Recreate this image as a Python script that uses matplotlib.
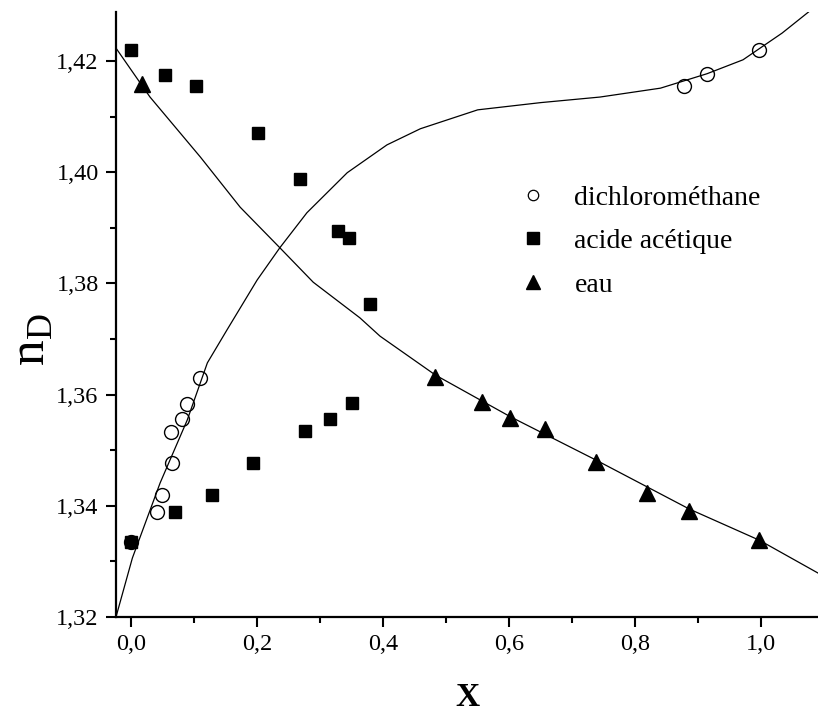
import matplotlib
matplotlib.use("Agg")
import matplotlib.pyplot as plt
from matplotlib.lines import Line2D
from matplotlib.ticker import FixedLocator, MultipleLocator

plt.rcParams['font.family'] = ['Liberation Serif', 'DejaVu Serif']
plt.rcParams['mathtext.fontset'] = 'custom'
plt.rcParams['mathtext.rm'] = 'Liberation Serif'

# --- data ---
dcm_x = [0.000, 0.041, 0.049, 0.065, 0.063, 0.081, 0.089, 0.109, 0.878, 0.914, 0.997]
dcm_y = [1.3335, 1.3389, 1.3419, 1.3477, 1.3533, 1.3556, 1.3583, 1.3630, 1.4155, 1.4177, 1.4220]

acide_x = [0.000, 0.054, 0.103, 0.202, 0.268, 0.329, 0.346, 0.379,
           0.000, 0.070, 0.129, 0.194, 0.276, 0.316, 0.351]
acide_y = [1.4220, 1.4175, 1.4155, 1.4070, 1.3988, 1.3894, 1.3882, 1.3763,
           1.3335, 1.3389, 1.3419, 1.3477, 1.3535, 1.3556, 1.3585]

eau_x = [0.017, 0.483, 0.557, 0.602, 0.657, 0.738, 0.819, 0.886, 0.997]
eau_y = [1.4158, 1.3632, 1.3587, 1.3558, 1.3538, 1.3479, 1.3423, 1.3391, 1.3338]

fit_down_x = [-0.024, 0.030, 0.110, 0.173, 0.236, 0.289, 0.363, 0.395, 0.483,
              0.602, 0.738, 0.886, 0.997, 1.090]
fit_down_y = [1.4223, 1.4135, 1.4027, 1.3937, 1.3864, 1.3802, 1.3738, 1.3705, 1.3635,
              1.3560, 1.3482, 1.3394, 1.3338, 1.3279]

fit_up_x = [-0.024, 0.002, 0.046, 0.089, 0.121, 0.152, 0.200, 0.236, 0.279, 0.343,
            0.406, 0.459, 0.550, 0.650, 0.744, 0.840, 0.914, 0.971, 1.033, 1.075]
fit_up_y = [1.3200, 1.3306, 1.3441, 1.3554, 1.3657, 1.3716, 1.3806, 1.3864, 1.3927, 1.3999,
            1.4049, 1.4078, 1.4112, 1.4125, 1.4135, 1.4151, 1.4177, 1.4202, 1.4250, 1.4288]

xticks = [0.0, 0.2, 0.4, 0.6, 0.8, 1.0]
xticklabels = ['0,0', '0,2', '0,4', '0,6', '0,8', '1,0']
yticks = [1.32, 1.34, 1.36, 1.38, 1.40, 1.42]
yticklabels = ['1,32', '1,34', '1,36', '1,38', '1,40', '1,42']
labels = ['dichlorométhane', 'acide acétique', 'eau']

fig = plt.figure(figsize=(8.18, 7.17), dpi=100)
ax = fig.add_axes([0.1418, 0.1395, 0.8582, 0.8438])

ax.plot(fit_down_x, fit_down_y, color='black', lw=0.9, zorder=2)
ax.plot(fit_up_x, fit_up_y, color='black', lw=0.9, zorder=2)
ax.plot(dcm_x, dcm_y, linestyle='none', marker='o', ms=10, mfc='none',
        mec='black', mew=1.0, zorder=3)
ax.plot(acide_x, acide_y, linestyle='none', marker='s', ms=9, mfc='black',
        mec='black', zorder=3)
ax.plot(eau_x, eau_y, linestyle='none', marker='^', ms=12, mfc='black',
        mec='black', zorder=3)

ax.set_xlim(-0.024, 1.09)
ax.set_ylim(1.32, 1.4288)

for s in ['top', 'right']:
    ax.spines[s].set_visible(False)
for s in ['left', 'bottom']:
    ax.spines[s].set_linewidth(1.6)

ax.xaxis.set_major_locator(FixedLocator(xticks))
ax.set_xticklabels(xticklabels)
ax.yaxis.set_major_locator(FixedLocator(yticks))
ax.set_yticklabels(yticklabels)
ax.xaxis.set_minor_locator(MultipleLocator(0.1))
ax.yaxis.set_minor_locator(MultipleLocator(0.01))
ax.tick_params(which='major', direction='out', length=7.5, width=1.5,
               labelsize=17.5, pad=5)
ax.tick_params(which='minor', direction='out', length=4.5, width=1.5)

handles = [
    Line2D([], [], linestyle='none', marker='o', ms=7.5, mfc='none', mec='black', mew=0.9),
    Line2D([], [], linestyle='none', marker='s', ms=8, mfc='black', mec='black'),
    Line2D([], [], linestyle='none', marker='^', ms=10, mfc='black', mec='black'),
]
leg = ax.legend(handles, labels, loc='upper left', bbox_to_anchor=(0.558, 0.732),
                frameon=False, fontsize=20, handlelength=1.0, handletextpad=1.0,
                labelspacing=0.65, borderaxespad=0)

fig.text(32 / 818, 1 - 340 / 717, r'n$_\mathrm{D}$', rotation=90, fontsize=37,
         ha='center', va='center')
fig.text(467 / 818, 1 - 698 / 717, 'X', fontsize=24, fontweight='bold',
         ha='center', va='center')

fig.savefig('out.png', dpi=100)
